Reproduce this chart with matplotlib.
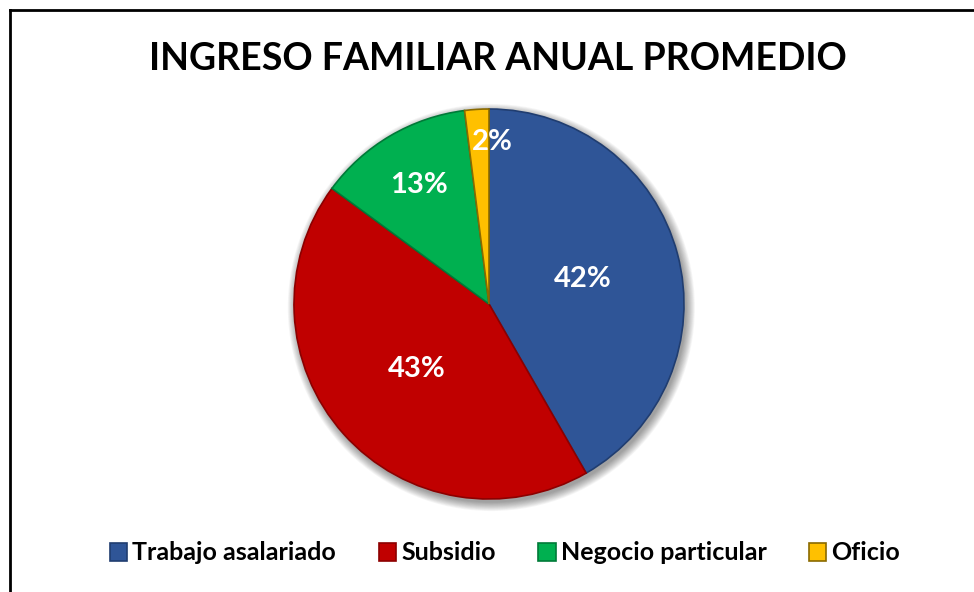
import numpy as np
import matplotlib.pyplot as plt
from matplotlib.patches import Circle, Patch
from matplotlib.lines import Line2D

plt.rcParams['font.family'] = ['Lato', 'DejaVu Sans']

# data
categorias = ['Trabajo asalariado', 'Subsidio', 'Negocio particular', 'Oficio']
valores = [41.7, 43.4, 12.9, 2.0]
colores = ['#2F5597', '#C00000', '#00B050', '#FFC000']
bordes = ['#203D70', '#8C0000', '#007A38', '#8A6A00']
dist_etiquetas = [0.50, 0.50, 0.71, 0.83]

W, H = 974, 592
fig = plt.figure(figsize=(W / 100, H / 100), dpi=100)
fig.patch.set_facecolor('white')

# pie axes, center (489, 304) px, radius 195 px
cx, cy, R = 489, 304, 195
half = 220
ax = fig.add_axes([(cx - half) / W, (H - cy - half) / H, 2 * half / W, 2 * half / H])

# soft shadow
for k in range(12):
    ax.add_patch(Circle((0.012, -0.018), 1.0 + 0.004 * k, color='black',
                        alpha=0.035, lw=0, zorder=0))

wedges, _ = ax.pie(valores, colors=colores, startangle=90, counterclock=False,
                   radius=1.0, wedgeprops=dict(linewidth=1.2))
for w, b in zip(wedges, bordes):
    w.set_edgecolor(b)
    w.set_zorder(2)

ax.set_xlim(-half / R, half / R)
ax.set_ylim(-half / R, half / R)
ax.set_aspect('equal')
ax.axis('off')

total = sum(valores)
for w, v, d in zip(wedges, valores, dist_etiquetas):
    ang = np.deg2rad((w.theta1 + w.theta2) / 2)
    x, y = d * np.cos(ang), d * np.sin(ang)
    if v < 5:
        x += 0.07
    ax.text(x, y, f'{v / total * 100:.0f}%', color='white', fontsize=21,
            fontweight='bold', ha='center', va='center', zorder=3)

fig.text(498 / W, 1 - 59 / H, 'INGRESO FAMILIAR ANUAL PROMEDIO', ha='center',
         va='center', fontsize=27, fontweight='bold', color='black')

handles = [Patch(facecolor=c, edgecolor=b, linewidth=1.2) for c, b in zip(colores, bordes)]
fig.legend(handles, categorias, loc='center', bbox_to_anchor=(505 / W, 1 - 553 / H),
           ncol=4, frameon=False, handlelength=0.7, handleheight=0.7,
           handletextpad=0.2, columnspacing=1.7, prop={'weight': 'bold', 'size': 18})

# chart border (left/top visible)
fig.add_artist(Line2D([10 / W, 10 / W], [-0.1, 1 - 10 / H], color='black', lw=2,
                      transform=fig.transFigure))
fig.add_artist(Line2D([10 / W, 1.1], [1 - 10 / H, 1 - 10 / H], color='black', lw=2,
                      transform=fig.transFigure))

fig.savefig('out.png', dpi=100)
